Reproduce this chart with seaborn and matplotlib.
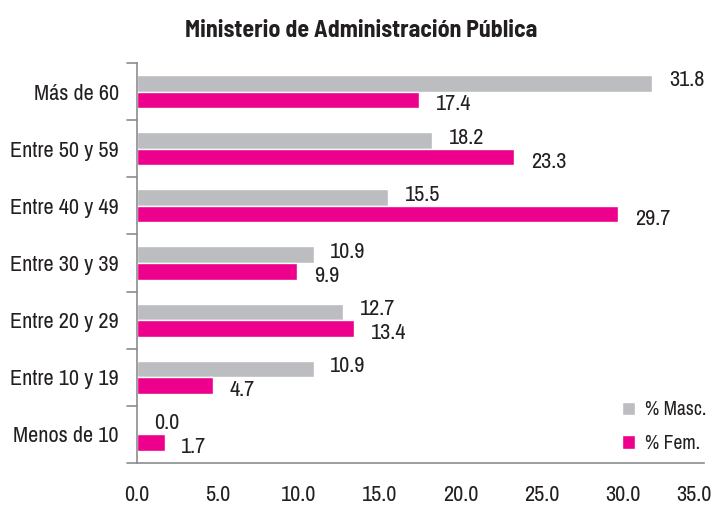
import matplotlib
matplotlib.use("Agg")
import matplotlib.pyplot as plt
import seaborn as sns
import pandas as pd
from matplotlib.patches import Patch

categories = ["Más de 60", "Entre 50 y 59", "Entre 40 y 49", "Entre 30 y 39",
              "Entre 20 y 29", "Entre 10 y 19", "Menos de 10"]
masc = [31.8, 18.2, 15.5, 10.9, 12.7, 10.9, 0.0]
fem = [17.4, 23.3, 29.7, 9.9, 13.4, 4.7, 1.7]
series = ["% Masc.", "% Fem."]
colors = ["#bcbdc0", "#ec008c"]
xticks = [0, 5, 10, 15, 20, 25, 30, 35]

sns.set_theme(style="white")
plt.rcParams['font.family'] = ['Archivo Narrow', 'DejaVu Sans']

df = pd.DataFrame({
    "cat": categories * 2,
    "val": masc + fem,
    "serie": [series[0]] * len(categories) + [series[1]] * len(categories),
})

fig = plt.figure(figsize=(7.17, 5.14), dpi=100)
ax = fig.add_axes([137/717, 1 - 463/514, (704-137)/717, (463-63)/514])

sns.barplot(data=df, y="cat", x="val", hue="serie", order=categories,
            hue_order=series, palette=colors, orient="h", width=0.58,
            saturation=1, ax=ax, legend=False)

txtcol = "#231f20"
ax.set_xlim(0, 35)
ax.set_ylim(len(categories) - 0.5, -0.5)
ax.set_xticks(xticks)
# last tick label drawn separately, nudged left so it stays inside the figure
ax.set_xticklabels([f"{t:.1f}" for t in xticks[:-1]] + [""], fontsize=16, color=txtcol)
ax.annotate(f"{xticks[-1]:.1f}", (xticks[-1], 0), xycoords=("data", "axes fraction"),
            xytext=(-7, -16), textcoords="offset points", ha="center", va="top",
            fontsize=16, color=txtcol)
ax.set_yticks(range(len(categories)))
ax.set_yticklabels(categories, fontsize=16, color=txtcol)
ax.set_xlabel("")
ax.set_ylabel("")

# boundary ticks on y axis
ax.tick_params(axis="y", length=0, pad=13)
for b in [i - 0.5 for i in range(len(categories) + 1)]:
    ax.plot([-0.018, 0], [b, b], color="#8a8c8e", lw=1.2,
            transform=ax.get_yaxis_transform(), clip_on=False)
ax.tick_params(axis="x", direction="in", length=7, color="#8a8c8e", width=1.2, pad=16)

for s in ["top", "right"]:
    ax.spines[s].set_visible(False)
for s in ["left", "bottom"]:
    ax.spines[s].set_color("#8a8c8e")
    ax.spines[s].set_linewidth(1.2)

# value labels
for cont, dy in zip(ax.containers, [-0.05, 0.08]):
    for bar, v in zip(cont, cont.datavalues):
        y = bar.get_y() + bar.get_height() / 2 + dy
        ax.annotate(f"{v:.1f}", (bar.get_width(), y), xytext=(12, 0),
                    textcoords="offset points", va="center", ha="left",
                    fontsize=16, color=txtcol)

handles = [Patch(facecolor=c, label=l) for c, l in zip(colors, series)]
ax.legend(handles=handles, loc="lower right", bbox_to_anchor=(1.035, -0.018),
          frameon=False, fontsize=14, handlelength=0.7, handleheight=0.7,
          handletextpad=0.5, labelspacing=0.75, labelcolor=txtcol)

fig.suptitle("Ministerio de Administración Pública", fontsize=17.2, fontweight="bold",
             family=["Barlow Semi Condensed", "DejaVu Sans"],
             y=1 - 20/514, x=0.503, color=txtcol)

fig.savefig("out.png", dpi=100)
